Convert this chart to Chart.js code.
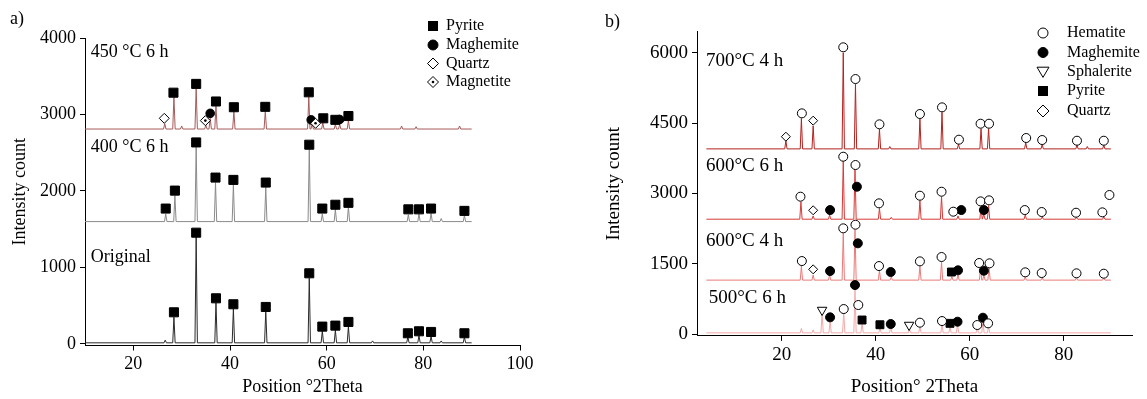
<!DOCTYPE html>
<html>
<head>
<meta charset="utf-8">
<script src="https://cdn.jsdelivr.net/npm/chart.js@4.4.1/dist/chart.umd.min.js"></script>
<style>
  body { margin: 0; background: #fff; }
  canvas { position: absolute; top: 0; }
</style>
</head>
<body>
<canvas id="chartA" width="575" height="399" style="left:0"></canvas>
<canvas id="chartB" width="572" height="399" style="left:575px"></canvas>
<script>
const FONT = "'Liberation Serif', 'Times New Roman', serif";

// ---------- panel a) ----------
const aXTicks = [20, 40, 60, 80, 100];
const aYTicks = [0, 1000, 2000, 3000, 4000];

// original sample
const origBase = 15;
const origPeakX = [26.6, 28.4, 33.0, 37.1, 40.7, 47.4, 56.4, 59.1, 61.8, 64.5, 69.5, 76.8, 79.1, 81.6, 83.7, 88.5];
const origPeakTop = [50, 350, 1400, 540, 460, 430, 860, 170, 180, 230, 40, 90, 110, 100, 40, 90];
const origPyriteX = [28.4, 33.0, 37.1, 40.7, 47.4, 56.4, 59.1, 61.8, 64.5, 76.8, 79.1, 81.6, 88.5];
const origPyriteY = [414, 1455, 597, 519, 484, 924, 227, 240, 288, 140, 166, 157, 140];

// 400 °C 6 h
const s400Base = 1600;
const s400PeakX = [26.7, 28.6, 33.0, 37.0, 40.7, 47.4, 56.4, 59.1, 61.8, 64.5, 76.9, 79.1, 81.6, 83.7, 88.5];
const s400PeakTop = [1700, 1940, 2580, 2110, 2080, 2050, 2550, 1700, 1760, 1790, 1690, 1700, 1710, 1640, 1680];
const s400PyriteX = [26.7, 28.6, 33.0, 37.0, 40.7, 47.4, 56.4, 59.1, 61.8, 64.5, 76.9, 79.1, 81.6, 88.5];
const s400PyriteY = [1770, 2005, 2635, 2175, 2145, 2110, 2605, 1770, 1820, 1845, 1760, 1760, 1770, 1740];

// 450 °C 6 h
const s450Base = 2810;
const s450PeakX = [26.5, 28.4, 30.0, 33.0, 35.0, 35.9, 37.1, 40.8, 47.3, 56.3, 57.0, 59.2, 61.8, 62.7, 64.5, 75.5, 78.5, 87.5];
const s450PeakTop = [2880, 3230, 2850, 3340, 2860, 2950, 3110, 3040, 3040, 3230, 2880, 2890, 2870, 2870, 2920, 2850, 2840, 2850];
const s450PyriteX = [28.3, 33.0, 37.1, 40.8, 47.3, 56.3, 59.3, 61.8, 64.5];
const s450PyriteY = [3285, 3400, 3170, 3095, 3100, 3290, 2950, 2930, 2980];
const s450MaghemiteX = [35.9, 56.8, 62.7];
const s450MaghemiteY = [3015, 2930, 2935];
const s450QuartzX = [26.4];
const s450QuartzY = [2950];
const s450MagnetiteX = [34.9, 57.7];
const s450MagnetiteY = [2920, 2885];

// ---------- panel b) ----------
const bXTicks = [20, 40, 60, 80];
const bYTicks = [0, 1500, 3000, 4500, 6000];

// 500 °C 6 h
const b500Base = 25;
const b500PeakX = [24.2, 26.7, 28.6, 30.3, 33.2, 35.6, 37.1, 40.9, 43.2, 47.2, 49.4, 54.1, 55.8, 57.4, 61.6, 62.8, 64.0];
const b500PeakTop = [120, 90, 450, 290, 470, 960, 230, 130, 150, 100, 170, 210, 160, 200, 130, 280, 160];
const b500HematiteX = [33.2, 36.3, 49.4, 54.1, 61.6, 63.9];
const b500HematiteY = [533, 619, 242, 277, 192, 228];
const b500MaghemiteX = [30.3, 35.6, 43.2, 57.4, 62.8];
const b500MaghemiteY = [356, 1045, 213, 263, 348];
const b500PyriteX = [37.1, 40.9, 55.8];
const b500PyriteY = [299, 198, 228];
const b500SphaleriteX = [28.6, 47.1];
const b500SphaleriteY = [512, 192];

// 600 °C 4 h
const b6004Base = 1150;
const b6004PeakX = [24.2, 26.7, 30.2, 33.1, 35.6, 40.8, 43.3, 49.4, 54.0, 56.2, 57.5, 62.3, 63.0, 64.1, 71.8, 75.4, 82.7, 88.5];
const b6004PeakTop = [1450, 1260, 1260, 2150, 2230, 1350, 1220, 1450, 1540, 1230, 1260, 1420, 1260, 1420, 1220, 1200, 1200, 1190];
const b6004HematiteX = [24.3, 33.1, 35.7, 40.7, 49.4, 54.0, 62.0, 64.2, 71.8, 75.3, 82.7, 88.5];
const b6004HematiteY = [1557, 2255, 2332, 1450, 1550, 1643, 1515, 1508, 1316, 1301, 1295, 1287];
const b6004MaghemiteX = [30.3, 36.2, 43.2, 57.5, 63.0];
const b6004MaghemiteY = [1344, 1935, 1323, 1359, 1351];
const b6004PyriteX = [56.1];
const b6004PyriteY = [1323];
const b6004QuartzX = [26.7];
const b6004QuartzY = [1380];

// 600 °C 6 h
const b6006Base = 2450;
const b6006PeakX = [24.1, 26.7, 30.2, 33.1, 35.6, 40.8, 43.3, 49.4, 54.0, 57.5, 62.4, 63.0, 64.0, 71.8, 75.4, 82.7, 88.5];
const b6006PeakTop = [2820, 2520, 2540, 3700, 3520, 2680, 2490, 2850, 2930, 2520, 2720, 2550, 2740, 2540, 2500, 2490, 2500];
const b6006HematiteX = [24.0, 33.1, 35.7, 40.7, 49.4, 54.0, 56.5, 62.3, 64.1, 71.7, 75.3, 82.6, 88.2, 89.7];
const b6006HematiteY = [2930, 3783, 3606, 2788, 2951, 3036, 2610, 2830, 2852, 2645, 2603, 2588, 2596, 2966];
const b6006MaghemiteX = [30.3, 36.0, 58.2, 63.0];
const b6006MaghemiteY = [2645, 3143, 2645, 2645];
const b6006QuartzX = [26.7];
const b6006QuartzY = [2640];

// 700 °C 4 h
const b700Base = 3950;
const b700PeakX = [20.9, 24.2, 26.7, 33.1, 35.7, 40.8, 43.0, 49.4, 54.1, 57.6, 62.4, 64.0, 71.9, 75.4, 82.8, 85.0, 88.5];
const b700PeakTop = [4120, 4600, 4440, 6000, 5330, 4370, 4000, 4590, 4730, 4050, 4380, 4380, 4080, 4040, 4030, 4000, 4030];
const b700HematiteX = [24.3, 33.1, 35.7, 40.8, 49.4, 54.1, 57.7, 62.3, 64.1, 72.0, 75.4, 82.8, 88.5];
const b700HematiteY = [4708, 6117, 5440, 4474, 4694, 4836, 4146, 4487, 4487, 4182, 4139, 4124, 4124];
const b700QuartzX = [20.9, 26.7];
const b700QuartzY = [4210, 4552];

// ---------- helpers ----------
function tracePoints(base, xs, tops, x0, x1) {
    let pts = [{x: x0, y: base}];
    xs.forEach((x, i) => {
        pts.push({x: x - 0.25, y: base}, {x: x, y: tops[i]}, {x: x + 0.25, y: base});
    });
    pts.push({x: x1, y: base});
    return pts;
}

function trace(pts, color) {
    return {
        data: pts, showLine: true, borderColor: color, borderWidth: 1,
        pointRadius: 0, tension: 0, order: 2
    };
}

function markers(xs, ys, style, fill, r, extra) {
    return Object.assign({
        data: xs.map((x, i) => ({x: x, y: ys[i]})),
        showLine: false, pointStyle: style, pointRadius: r,
        pointBackgroundColor: fill, pointBorderColor: '#000', pointBorderWidth: 1,
        order: 1
    }, extra || {});
}

function drawSymbol(ctx, kind, x, y, r) {
    ctx.save();
    ctx.lineWidth = 1;
    ctx.strokeStyle = '#000';
    ctx.beginPath();
    if (kind === 'square') {
        ctx.fillStyle = '#000';
        ctx.fillRect(x - r, y - r, 2 * r, 2 * r);
    } else if (kind === 'dot' || kind === 'ring') {
        ctx.arc(x, y, r, 0, Math.PI * 2);
        ctx.fillStyle = kind === 'dot' ? '#000' : '#fff';
        ctx.fill();
        ctx.stroke();
    } else if (kind === 'diamond' || kind === 'diamondDot') {
        ctx.moveTo(x - r, y); ctx.lineTo(x, y - r); ctx.lineTo(x + r, y); ctx.lineTo(x, y + r);
        ctx.closePath();
        ctx.fillStyle = '#fff';
        ctx.fill();
        ctx.stroke();
        if (kind === 'diamondDot') {
            ctx.beginPath();
            ctx.arc(x, y, 1.3, 0, Math.PI * 2);
            ctx.fillStyle = '#000';
            ctx.fill();
        }
    } else if (kind === 'triDown') {
        ctx.moveTo(x - r, y - r * 0.8); ctx.lineTo(x + r, y - r * 0.8); ctx.lineTo(x, y + r * 0.9);
        ctx.closePath();
        ctx.fillStyle = '#fff';
        ctx.fill();
        ctx.stroke();
    }
    ctx.restore();
}

const decor = {
    id: 'decor',
    afterDraw(chart, args, opts) {
        const ctx = chart.ctx;
        const xs = chart.scales.x, ys = chart.scales.y;
        ctx.save();
        ctx.fillStyle = '#000';
        ctx.textBaseline = 'middle';
        ctx.textAlign = 'left';
        ctx.font = opts.labelSize + 'px ' + FONT;
        opts.labels.forEach(l => {
            ctx.fillText(l.text, xs.getPixelForValue(l.x), ys.getPixelForValue(l.y));
        });
        ctx.font = opts.legendSize + 'px ' + FONT;
        opts.legend.forEach(item => {
            drawSymbol(ctx, item.kind, opts.legendX, item.y, item.r);
            ctx.fillStyle = '#000';
            ctx.fillText(item.text, opts.legendTextX, item.y);
        });
        ctx.font = '18px ' + FONT;
        ctx.fillText(opts.panel.text, opts.panel.x, opts.panel.y);
        ctx.restore();
    }
};

function axes(xMin, xMax, xTicks, yMin, yMax, yTicks, yWidth, xHeight, tickSize, titleSize, xTitle, yTitlePad) {
    const grid = {display: true, drawOnChartArea: false, drawTicks: true, tickLength: 5, color: '#000'};
    const border = {display: true, color: '#000', width: 1};
    return {
        x: {
            type: 'linear', min: xMin, max: xMax, grid: grid, border: border,
            afterBuildTicks: s => { s.ticks = xTicks.map(v => ({value: v})); },
            afterFit: s => { s.height = xHeight; },
            ticks: {color: '#000', font: {family: FONT, size: tickSize}, padding: 3, maxRotation: 0,
                    callback: v => String(v)},
            title: {display: true, text: xTitle, color: '#000', font: {family: FONT, size: titleSize},
                    padding: {top: 0, bottom: 1}}
        },
        y: {
            type: 'linear', min: yMin, max: yMax, grid: grid, border: border,
            afterBuildTicks: s => { s.ticks = yTicks.map(v => ({value: v})); },
            afterFit: s => { s.width = yWidth; },
            ticks: {color: '#000', font: {family: FONT, size: tickSize}, padding: 4,
                    callback: v => String(v)},
            title: {display: true, text: 'Intensity count', color: '#000', font: {family: FONT, size: titleSize},
                    padding: {top: yTitlePad, bottom: 0}}
        }
    };
}

// ---------- chart a ----------
new Chart(document.getElementById('chartA'), {
    type: 'scatter',
    data: {
        datasets: [
            markers(s450MagnetiteX, s450MagnetiteY, 'circle', '#000', 1.3, {pointBorderWidth: 0, order: 0}),
            markers(s450MagnetiteX, s450MagnetiteY, 'rectRot', '#fff', 5),
            markers(s450QuartzX, s450QuartzY, 'rectRot', '#fff', 5),
            markers(s450MaghemiteX, s450MaghemiteY, 'circle', '#000', 4.3),
            markers(s450PyriteX, s450PyriteY, 'rect', '#000', 6.4),
            markers(s400PyriteX, s400PyriteY, 'rect', '#000', 6.4),
            markers(origPyriteX, origPyriteY, 'rect', '#000', 6.4),
            trace(tracePoints(s450Base, s450PeakX, s450PeakTop, 10, 90), '#a65a5a'),
            trace(tracePoints(s400Base, s400PeakX, s400PeakTop, 10, 90), '#8a8a8a'),
            trace(tracePoints(origBase, origPeakX, origPeakTop, 10, 90), '#2a2a2a')
        ]
    },
    options: {
        responsive: false, animation: false, events: [],
        layout: {padding: {left: 0, top: 38, right: 55, bottom: 0}},
        scales: axes(10, 100, aXTicks, -20, 4000, aYTicks, 85, 53.5, 18, 18, 'Position °2Theta', 9),
        plugins: {
            legend: {display: false}, tooltip: {enabled: false},
            decor: {
                labelSize: 18, legendSize: 16,
                labels: [
                    {text: '450 °C 6 h', x: 11.2, y: 3817},
                    {text: '400 °C 6 h', x: 11.2, y: 2575},
                    {text: 'Original', x: 11.2, y: 1137}
                ],
                legendX: 433, legendTextX: 446,
                legend: [
                    {kind: 'square', text: 'Pyrite', y: 26, r: 5},
                    {kind: 'dot', text: 'Maghemite', y: 45, r: 5},
                    {kind: 'diamond', text: 'Quartz', y: 63.5, r: 5.5},
                    {kind: 'diamondDot', text: 'Magnetite', y: 82, r: 5.5}
                ],
                panel: {text: 'a)', x: 10, y: 19}
            }
        }
    },
    plugins: [decor]
});

// ---------- chart b ----------
new Chart(document.getElementById('chartB'), {
    type: 'scatter',
    data: {
        datasets: [
            markers(b700HematiteX, b700HematiteY, 'circle', '#fff', 4.5),
            markers(b700QuartzX, b700QuartzY, 'rectRot', '#fff', 4.5),
            markers(b6006HematiteX, b6006HematiteY, 'circle', '#fff', 4.5),
            markers(b6006MaghemiteX, b6006MaghemiteY, 'circle', '#000', 4.5),
            markers(b6006QuartzX, b6006QuartzY, 'rectRot', '#fff', 4.5),
            markers(b6004HematiteX, b6004HematiteY, 'circle', '#fff', 4.5),
            markers(b6004MaghemiteX, b6004MaghemiteY, 'circle', '#000', 4.5),
            markers(b6004PyriteX, b6004PyriteY, 'rect', '#000', 5.6),
            markers(b6004QuartzX, b6004QuartzY, 'rectRot', '#fff', 4.5),
            markers(b500HematiteX, b500HematiteY, 'circle', '#fff', 4.5),
            markers(b500MaghemiteX, b500MaghemiteY, 'circle', '#000', 4.5),
            markers(b500PyriteX, b500PyriteY, 'rect', '#000', 5.6),
            markers(b500SphaleriteX, b500SphaleriteY, 'triangle', '#fff', 5.5, {pointRotation: 180}),
            trace(tracePoints(b700Base, b700PeakX, b700PeakTop, 4, 90), '#b3221e'),
            trace(tracePoints(b6006Base, b6006PeakX, b6006PeakTop, 4, 90), '#d63a36'),
            trace(tracePoints(b6004Base, b6004PeakX, b6004PeakTop, 4, 90), '#ea7a78'),
            trace(tracePoints(b500Base, b500PeakX, b500PeakTop, 4, 90), '#f2aaa8')
        ]
    },
    options: {
        responsive: false, animation: false, events: [],
        layout: {padding: {left: 0, top: 31.7, right: 15, bottom: 0}},
        scales: axes(2, 94.5, bXTicks, -40, 6450, bYTicks, 122, 63.1, 19, 19, 'Position° 2Theta', 27.5),
        plugins: {
            legend: {display: false}, tooltip: {enabled: false},
            decor: {
                labelSize: 19, legendSize: 16,
                labels: [
                    {text: '700°C 4 h', x: 3.9, y: 5825},
                    {text: '600°C 6 h', x: 3.9, y: 3584},
                    {text: '600°C 4 h', x: 3.9, y: 1990},
                    {text: '500°C 6 h', x: 4.5, y: 768}
                ],
                legendX: 468, legendTextX: 492,
                legend: [
                    {kind: 'ring', text: 'Hematite', y: 33, r: 5},
                    {kind: 'dot', text: 'Maghemite', y: 52.5, r: 5},
                    {kind: 'triDown', text: 'Sphalerite', y: 72, r: 6},
                    {kind: 'square', text: 'Pyrite', y: 91, r: 5},
                    {kind: 'diamond', text: 'Quartz', y: 111, r: 6}
                ],
                panel: {text: 'b)', x: 30, y: 22}
            }
        }
    },
    plugins: [decor]
});
</script>
</body>
</html>
